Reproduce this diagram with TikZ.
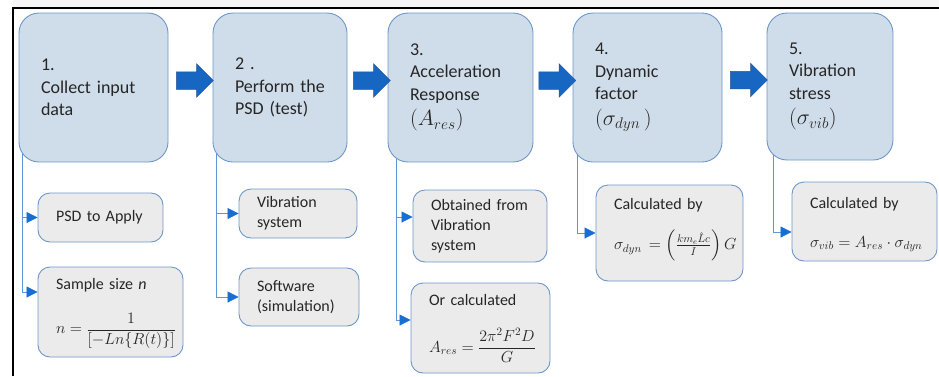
\RequirePackage{fix-cm}
\documentclass[tikz,border=0pt]{standalone}
\usepackage{amsmath}
\usepackage{fontspec}
\setmainfont{Carlito}
\usetikzlibrary{calc}
\usetikzlibrary{arrows.meta}
\usetikzlibrary{shapes.arrows}
\usetikzlibrary{backgrounds}
\definecolor{stepfill}{RGB}{207,220,233}
\definecolor{stepline}{RGB}{110,150,200}
\definecolor{subfill}{RGB}{235,235,235}
\definecolor{linkblue}{RGB}{95,150,215}
\definecolor{tipblue}{RGB}{25,110,210}
\definecolor{bigarrow}{RGB}{22,102,194}
\definecolor{bigarrowline}{RGB}{45,85,150}
\definecolor{txt}{RGB}{38,38,38}
\newcommand\bigmath[1]{{\fontsize{22}{22}\selectfont$#1$}}
\tikzset{
  stepbox/.style={draw=stepline,fill=stepfill,line width=0.9pt,rounded corners=20pt,
    minimum height=149pt,inner xsep=22pt,align=left,text=txt,
    font=\fontsize{18}{22.5}\selectfont},
  subbox/.style={draw=stepline,fill=subfill,line width=0.9pt,rounded corners=12pt,
    inner xsep=18pt,align=left,text=txt,font=\fontsize{16}{20}\selectfont},
  flowarrow/.style={single arrow,draw=bigarrowline,fill=bigarrow,line width=0.5pt,
    minimum height=37pt,inner xsep=0pt,inner ysep=8.5pt,single arrow head extend=8pt},
  link/.style={draw=linkblue,line width=0.8pt,
    -{Triangle[length=11pt,width=11pt,color=tipblue]}}
}

\begin{document}
\begin{tikzpicture}[x=1pt,y=-1pt]
\useasboundingbox (0,0) rectangle (939,376);
% frame
\fill[gray!7] (13,0) rectangle (939,7.3);
\draw[line width=1.3pt] (13,376) -- (13,8) -- (939,8);
% steps
\node[stepbox,text width=105pt] (s1) at (93.5,87.5) {1.\\Collect input\\data};
\node[stepbox,text width=90pt] (s2) at (280,87.5) {2 .\\Perform the\\PSD (test)};
\node[stepbox,text width=101pt] (s3) at (460.5,87.5) {3.\\Acceleration\\Response\\[3pt]\bigmath{(A_{res})}};
\node[stepbox,text width=105pt] (s4) at (647.5,87.5) {4.\\Dynamic\\factor\\[3pt]\bigmath{(\sigma_{dyn}\,)}};
\node[stepbox,text width=82pt,minimum height=147pt] (s5) at (830,86.5) {5.\\Vibration\\stress\\[3pt]\bigmath{(\sigma_{vib})}};
\node[flowarrow] (a12) at ([yshift=7pt]$(s1.east)!0.5!(s2.west)$) {};
\node[flowarrow] (a23) at ([yshift=7pt]$(s2.east)!0.5!(s3.west)$) {};
\node[flowarrow] (a34) at ([yshift=7pt]$(s3.east)!0.5!(s4.west)$) {};
\node[flowarrow] (a45) at ([yshift=7pt]$(s4.east)!0.5!(s5.west)$) {};
% details
\node[subbox,text width=89pt,minimum height=49pt] (p1) at (100.5,217.5) {PSD to Apply};
\node[subbox,text width=109pt,minimum height=90pt] (p2) at (110.5,312)
  {\mbox{}\\[-6pt]Sample size \textit{n}\\[20pt]\mbox{$n=\dfrac{1}{[-Ln\{R(t)\}]}$}};
\node[subbox,text width=82pt,minimum height=49pt] (q1) at (298,213.5) {Vibration\\system};
\node[subbox,text width=84pt,minimum height=58pt] (q2) at (299,297) {Software\\(simulation)};
\node[subbox,text width=98pt,minimum height=72pt] (r1) at (480,226) {Obtained from\\Vibration\\system};
\node[subbox,text width=103pt,minimum height=90pt] (r2) at (480.5,328)
  {\mbox{}\\[-8pt]Or calculated\\[22pt]\mbox{$A_{res}=\dfrac{2\pi^2F^2D}{G}$}};
\node[subbox,text width=111pt,minimum height=96pt] (t1) at (669.5,233)
  {Calculated by\\[17pt]\mbox{$\sigma_{dyn}\,=\left(\frac{km_e\hat{L}c}{I}\right)G$}\\[-2pt]\mbox{}};
\node[subbox,text width=109pt,minimum height=79pt] (u1) at (864.5,221.5)
  {\mbox{}\\[-3pt]Calculated by\\[19pt]\mbox{$\sigma_{vib}=A_{res}\cdot\sigma_{dyn}$}};
% links
\begin{pgfonlayer}{background}
\draw[link] ([xshift=4pt,yshift=20pt]s1.south west) |- (p1.west);
\draw[link] ([xshift=4pt,yshift=20pt]s1.south west) |- ([yshift=20pt]p2.west);
\draw[link] ([xshift=4pt,yshift=20pt]s2.south west) |- (q1.west);
\draw[link] ([xshift=4pt,yshift=20pt]s2.south west) |- (q2.west);
\draw[link] ([xshift=9pt,yshift=20pt]s3.south west) |- ([yshift=9pt]r1.west);
\draw[link] ([xshift=9pt,yshift=20pt]s3.south west) |- ([yshift=8pt]r2.west);
\draw[link] ([xshift=5pt,yshift=20pt]s4.south west) |- (t1.west);
\draw[link] ([xshift=7pt,yshift=20pt]s5.south west) |- ([yshift=-10.5pt]u1.west);
\end{pgfonlayer}
\end{tikzpicture}
\end{document}
